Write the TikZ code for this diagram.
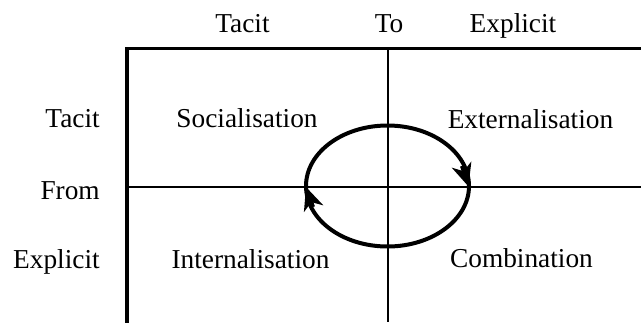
\documentclass[tikz,border=0pt]{standalone}
\usepackage{fontspec}
\setmainfont{Liberation Serif}
\usetikzlibrary{arrows.meta,calc}
\begin{document}
\begin{tikzpicture}[x=0.75pt,y=0.75pt,
  lbl/.style={inner sep=0pt,font=\fontsize{20.5}{24}\selectfont,anchor=base},
  rlbl/.style={lbl,anchor=base east},
  thickline/.style={line width=2.3pt},
  thinline/.style={line width=1pt},
  cyc/.style={line width=3pt},
  cyctip/.style={line width=3pt,-{Stealth[length=17pt,width=15pt,inset=5pt]}}]
\useasboundingbox (0,0) rectangle (641,-322);
% axes
\coordinate (tl) at (127,-48.5);
\coordinate (tr) at (641,-48.5);
\coordinate (bl) at (127,-322);
\coordinate (vt) at (388,-48.5);
\coordinate (vb) at (388,-322);
\coordinate (hl) at (127,-187);
\coordinate (hr) at (641,-187);
\draw[thinline] (vt) -- (vb);
\draw[thinline] (hl) -- (hr);
\draw[thickline,line cap=rect] (tr) -- (tl) -- (bl);
% cycle
\coordinate (c) at (387.5,-186);
\draw[cyc] (c) ellipse [x radius=81.5, y radius=60.5];
\coordinate (ra) at ($(c)+(74.5,20)$);
\coordinate (rb) at ($(c)+(81,-0.5)$);
\coordinate (la) at ($(c)+(-74.5,-21)$);
\coordinate (lb) at ($(c)+(-81.5,-1)$);
\draw[cyctip] (ra) -- (rb);
\draw[cyctip] (la) -- (lb);
% labels
\node[lbl] (tt) at (242.5,-32) {Tacit};
\node[lbl] (to) at (389,-32) {To};
\node[lbl] (te) at (513,-32) {Explicit};
\node[rlbl] (lt) at (100,-127) {Tacit};
\node[rlbl] (lf) at (100,-199) {From};
\node[rlbl] (le) at (100,-268) {Explicit};
\node[lbl] (soc) at (247,-127) {Socialisation};
\node[lbl] (ext) at (530.5,-128) {Externalisation};
\node[lbl] (int) at (250.5,-268) {Internalisation};
\node[lbl] (com) at (521.5,-267) {Combination};
\end{tikzpicture}
\end{document}
